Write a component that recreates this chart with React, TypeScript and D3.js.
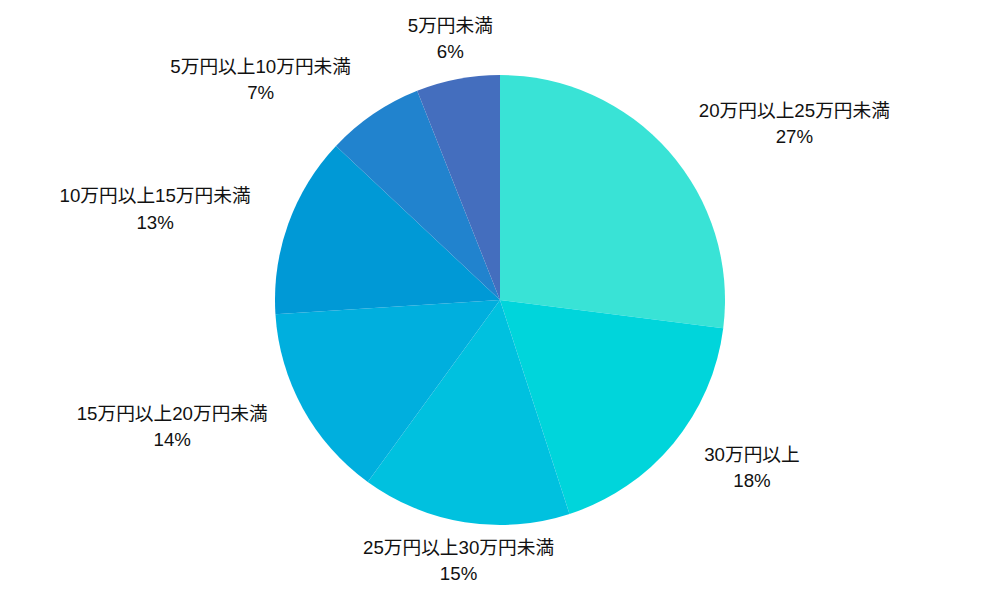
import React from "react";
import * as d3 from "d3";

const categories = [
  "20万円以上25万円未満",
  "30万円以上",
  "25万円以上30万円未満",
  "15万円以上20万円未満",
  "10万円以上15万円未満",
  "5万円以上10万円未満",
  "5万円未満",
];
const values = [27, 18, 15, 14, 13, 7, 6];
const colors = ["#39e3d6", "#00d5db", "#00c1df", "#00afde", "#0099d6", "#2183ce", "#446ebe"];

const W = 1000;
const H = 600;
const CX = 500;
const CY = 300;
const R = 225;
const LABEL_R = 265;
const FS = 18.7;
const FONT = "'Liberation Sans', Arial, 'Noto Sans CJK JP', sans-serif";

export default function App() {
  const data = categories.map((c, i) => ({ name: c, value: values[i], color: colors[i] }));
  const pie = d3.pie<any>().value((d) => d.value).sort(null);
  const arcs = pie(data);
  const arc = d3.arc<any>().innerRadius(0).outerRadius(R);
  const total = d3.sum(values);

  return (
    <svg width={W} height={H} style={{ display: "block", position: "absolute", left: 0, top: 0 }}>
      <rect width={W} height={H} fill="#fff" />
      <g transform={`translate(${CX},${CY})`}>
        {arcs.map((a, i) => (
          <path key={i} d={arc(a) as string} fill={a.data.color} />
        ))}
        {arcs.map((a, i) => {
          const mid = (a.startAngle + a.endAngle) / 2;
          const s = Math.sin(mid);
          const x = LABEL_R * s;
          const y = -LABEL_R * Math.cos(mid);
          const anchor = Math.abs(s) < 0.3 ? "middle" : s > 0 ? "start" : "end";
          const name = a.data.name as string;
          const approxW = Array.from(name).reduce(
            (w, ch) => w + (/[0-9]/.test(ch) ? FS * 0.556 : FS),
            0
          );
          let cx = x;
          if (anchor === "start") cx = x + approxW / 2;
          if (anchor === "end") cx = x - approxW / 2;
          const pct = Math.round((a.data.value / total) * 100) + "%";
          return (
            <g key={"l" + i} fontFamily={FONT} fontSize={FS} fill="#111">
              <text x={cx} y={y - 14.5} textAnchor="middle" dominantBaseline="central">
                {name}
              </text>
              <text x={cx} y={y + 12} textAnchor="middle" dominantBaseline="central">
                {pct}
              </text>
            </g>
          );
        })}
      </g>
    </svg>
  );
}
